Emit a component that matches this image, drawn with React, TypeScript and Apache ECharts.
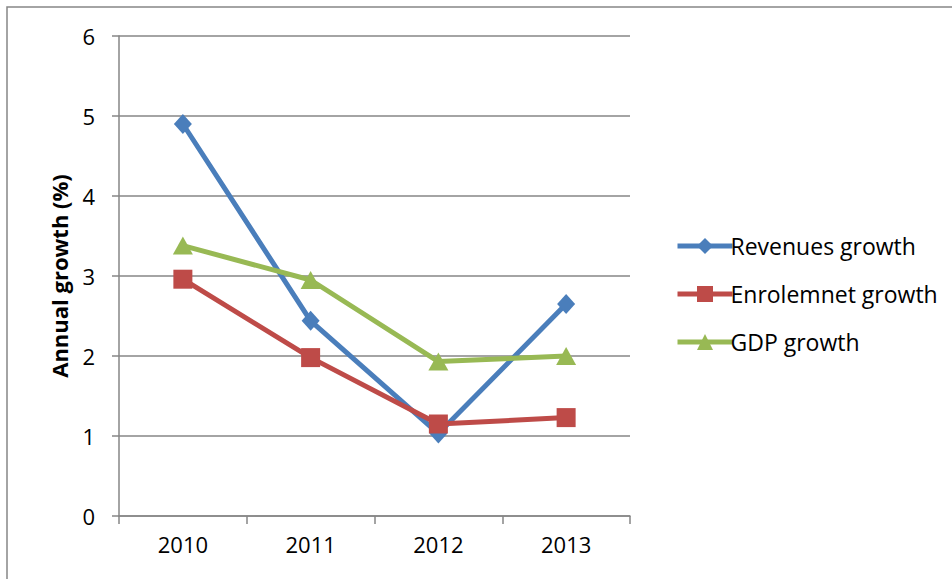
import React, { useEffect, useRef } from "react";
import * as echarts from "echarts";

const categories = ["2010", "2011", "2012", "2013"];
const revenuesGrowth = [4.9, 2.44, 1.03, 2.65];
const enrolmentGrowth = [2.96, 1.98, 1.15, 1.23];
const gdpGrowth = [3.38, 2.95, 1.93, 2.0];
const seriesNames = ["Revenues growth", "Enrolemnet growth", "GDP growth"];
const yAxisTitle = "Annual growth (%)";

const FONT = "'Open Sans', sans-serif";
const GREY = "#868686";

export default function App() {
  const ref = useRef<HTMLDivElement>(null);
  useEffect(() => {
    if (!ref.current) return;
    const chart = echarts.init(ref.current, null, { renderer: "svg" });
    const mk = (name: string, data: number[], color: string, symbol: string, size: any) => ({
      name,
      type: "line",
      data,
      symbol,
      symbolSize: size,
      showSymbol: true,
      lineStyle: { color, width: 5 },
      itemStyle: { color },
    });
    chart.setOption({
      animation: false,
      backgroundColor: "#ffffff",
      textStyle: { fontFamily: FONT },
      graphic: [
        {
          type: "rect",
          shape: { x: 7, y: 7, width: 1000, height: 700 },
          style: { fill: "none", stroke: GREY, lineWidth: 1.5 },
          z: -10,
        },
      ],
      grid: { left: 119, top: 36, width: 511, height: 480, containLabel: false },
      legend: {
        orient: "vertical",
        left: 670,
        top: 229,
        itemWidth: 55,
        itemHeight: 20,
        itemGap: 24,
        lineStyle: { width: 5 },
        textStyle: {
          fontSize: 23,
          lineHeight: 24,
          color: "#000",
          fontFamily: FONT,
          padding: [0, 0, 0, -7],
        },
        data: seriesNames,
      },
      xAxis: {
        type: "category",
        data: categories,
        boundaryGap: true,
        axisLine: { lineStyle: { color: GREY, width: 1.5 } },
        axisTick: { show: true, length: 8, lineStyle: { color: GREY, width: 1.5 } },
        axisLabel: { fontSize: 22, color: "#000", margin: 17, fontFamily: FONT },
      },
      yAxis: {
        type: "value",
        min: 0,
        max: 6,
        interval: 1,
        name: yAxisTitle,
        nameLocation: "middle",
        nameGap: 49,
        nameTextStyle: { fontSize: 22, fontWeight: "bold", color: "#000", fontFamily: FONT },
        axisLine: { show: true, lineStyle: { color: GREY, width: 1.5 } },
        axisTick: { show: true, length: 7, lineStyle: { color: GREY, width: 1.5 } },
        axisLabel: { fontSize: 22, color: "#000", margin: 24, fontFamily: FONT },
        splitLine: { lineStyle: { color: GREY, width: 1.5 } },
      },
      series: [
        mk(seriesNames[0], revenuesGrowth, "#4A7EBB", "diamond", [18, 20]),
        mk(seriesNames[1], enrolmentGrowth, "#BE4B48", "rect", 19),
        mk(seriesNames[2], gdpGrowth, "#98B954", "triangle", [20, 18]),
      ],
    });
    return () => chart.dispose();
  }, []);
  return (
    <div
      ref={ref}
      style={{ position: "fixed", left: 0, top: 0, width: 952, height: 579 }}
    />
  );
}
